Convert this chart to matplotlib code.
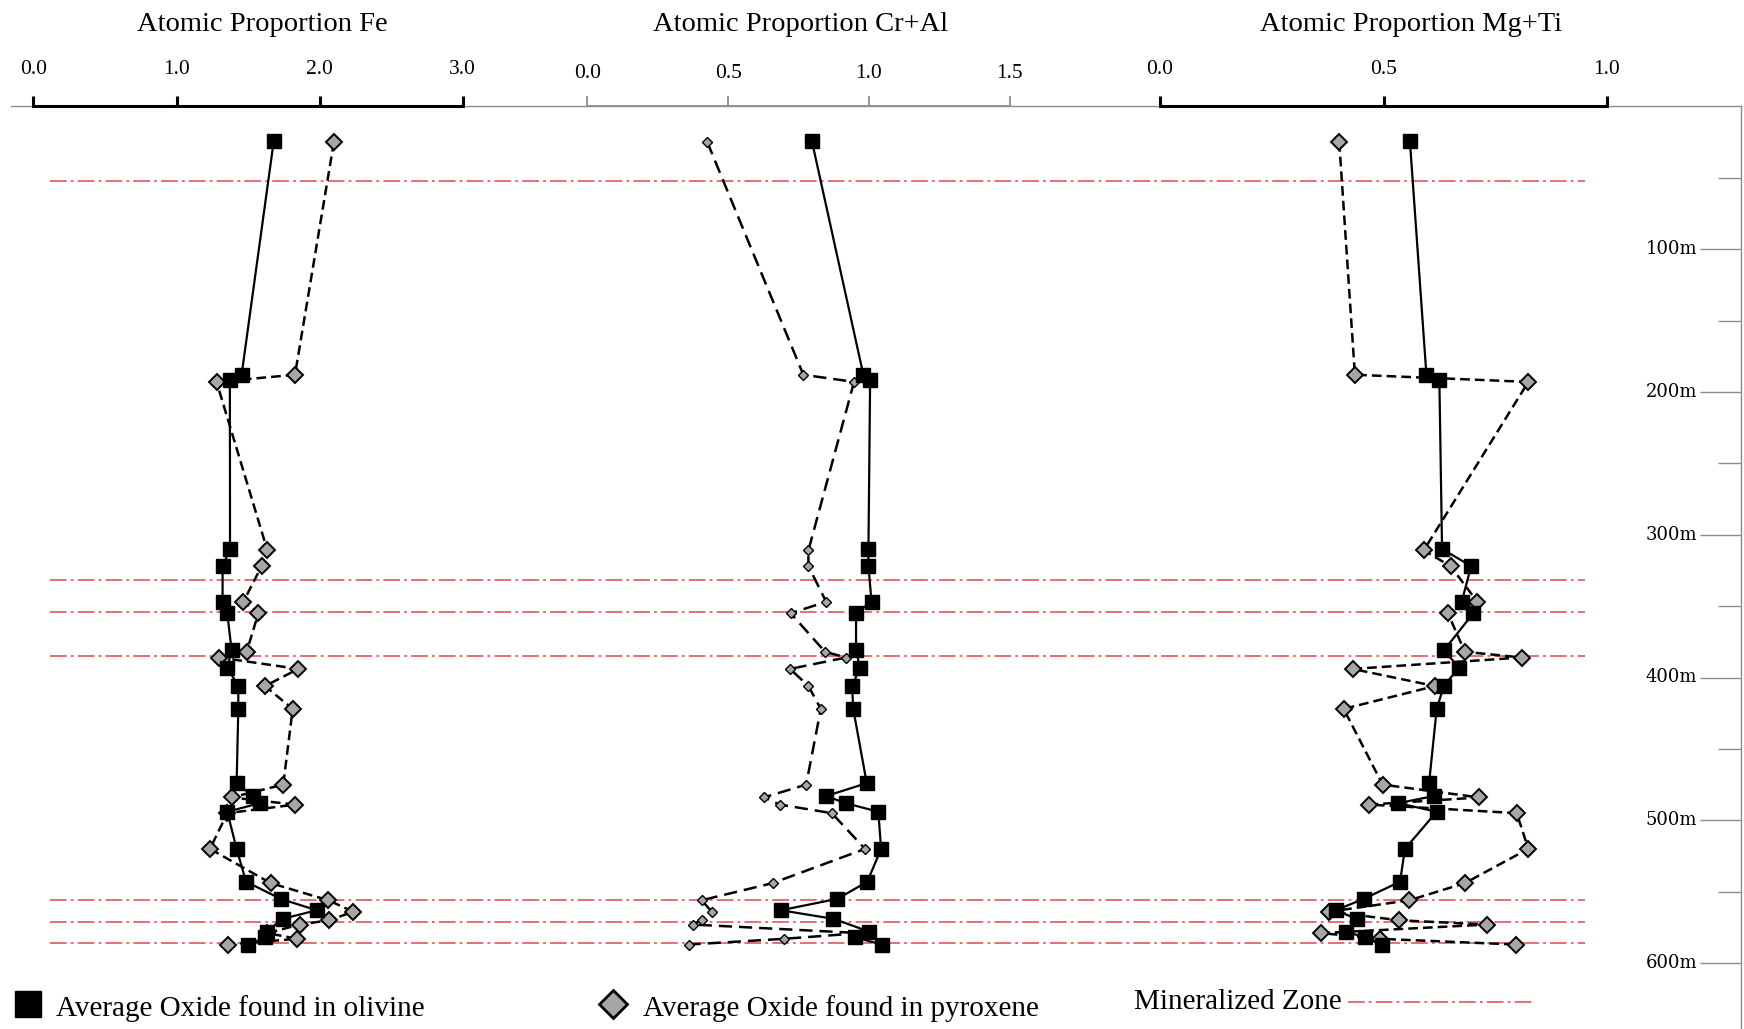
import matplotlib
matplotlib.use('Agg')
import matplotlib.pyplot as plt

plt.rcParams['font.family'] = ['Liberation Serif', 'DejaVu Serif']
plt.rcParams['lines.scale_dashes'] = False

# 样品深度 (m)
depth_ol = [24, 188, 192, 310, 322, 347, 355, 381, 393, 406, 422, 474, 483, 488,
            494, 520, 543, 555, 563, 569, 578, 582, 587]
depth_px = [25, 188, 193, 311, 322, 347, 355, 382, 386, 394, 406, 422, 475, 484,
            489, 495, 520, 544, 556, 564, 570, 573, 579, 583, 587]

# olivine
fe_ol = [1.68, 1.455, 1.373, 1.374, 1.322, 1.322, 1.355, 1.385, 1.355, 1.432, 1.432,
         1.420, 1.532, 1.583, 1.355, 1.420, 1.486, 1.728, 1.979, 1.742, 1.630, 1.62, 1.502]
cral_ol = [0.797, 0.98, 1.004, 0.998, 0.998, 1.009, 0.954, 0.954, 0.968, 0.940, 0.944,
           0.992, 0.848, 0.917, 1.033, 1.043, 0.994, 0.888, 0.687, 0.874, 1.001, 0.950, 1.045]
mgti_ol = [0.559, 0.596, 0.625, 0.631, 0.696, 0.675, 0.701, 0.635, 0.669, 0.635, 0.619,
           0.602, 0.613, 0.533, 0.619, 0.548, 0.537, 0.456, 0.393, 0.440, 0.417, 0.458, 0.496]

# pyroxene
fe_px = [2.10, 1.828, 1.28, 1.635, 1.595, 1.467, 1.572, 1.490, 1.299, 1.851, 1.618, 1.812,
         1.746, 1.385, 1.828, 1.355, 1.234, 1.658, 2.061, 2.235, 2.068, 1.862, 1.635, 1.844, 1.362]
cral_px = [0.426, 0.767, 0.947, 0.785, 0.785, 0.848, 0.722, 0.844, 0.919, 0.720, 0.785, 0.829,
           0.777, 0.627, 0.684, 0.868, 0.986, 0.658, 0.406, 0.442, 0.406, 0.375, 0.97, 0.698, 0.36]
mgti_px = [0.401, 0.436, 0.824, 0.590, 0.650, 0.710, 0.644, 0.682, 0.809, 0.431, 0.615, 0.411,
           0.498, 0.714, 0.468, 0.798, 0.824, 0.682, 0.558, 0.379, 0.535, 0.732, 0.361, 0.493, 0.797]

zone_depths = [52, 332, 354, 385, 556, 571, 586]
depth_ticks = [100, 200, 300, 400, 500, 600]
depth_minor = [50, 150, 250, 350, 450, 550]

titles = ['Atomic Proportion Fe', 'Atomic Proportion Cr+Al', 'Atomic Proportion Mg+Ti']
fe_ticks = [0.0, 1.0, 2.0, 3.0]
cral_ticks = [0.0, 0.5, 1.0, 1.5]
mgti_ticks = [0.0, 0.5, 1.0]

W, H = 1744, 1029
Y0 = 106.3          # 深度 0 的像素位置
PX_PER_M = 1.428
d_bot = (H - Y0) / PX_PER_M
d_top = -Y0 / PX_PER_M
GRAY = '#8c8c8c'
RED = '#e04848'
ZONE_DASH = (0, (12, 3, 2, 3))

fig = plt.figure(figsize=(W / 100, H / 100), dpi=100)
bg = fig.add_axes([0, 0, 1, 1])
bg.set_xlim(0, W)
bg.set_ylim(d_bot, d_top)
bg.axis('off')

# 外框与深度刻度
bg.plot([11, 1741], [0, 0], color=GRAY, lw=1.0)
bg.plot([1741, 1741], [0, d_bot], color=GRAY, lw=1.0)
bg.hlines(depth_ticks, 1700, 1741, colors=GRAY, lw=1.0)
bg.hlines(depth_minor, 1718, 1741, colors=GRAY, lw=1.0)
for d in depth_ticks:
    bg.text(1697, d, f'{d}m', ha='right', va='center', family='DejaVu Serif', fontsize=13)

# 矿化带
for d in zone_depths:
    bg.plot([50, 1585], [d, d], color=RED, lw=1.1, linestyle=ZONE_DASH, zorder=1)

panels = [
    (fe_ol, fe_px, (33.4, 462.7), 3.0, fe_ticks, 'black', 2.2, 8.3, (7, 3.6), 262),
    (cral_ol, cral_px, (587.2, 1009.9), 1.5, cral_ticks, GRAY, 1.3, 5.4, (9.5, 5), 800),
    (mgti_ol, mgti_px, (1160, 1607), 1.0, mgti_ticks, 'black', 2.2, 7.8, (7, 3.6), 1411),
]

for i, (ol, px, (x0, x1), xmax, ticks, scol, slw, dms, dash, tx) in enumerate(panels):
    ax = fig.add_axes([x0 / W, 0, (x1 - x0) / W, (H - Y0) / H])
    ax.patch.set_alpha(0)
    ax.set_xlim(0, xmax)
    ax.set_ylim(d_bot, 0)
    for s in ['left', 'right', 'bottom']:
        ax.spines[s].set_visible(False)
    ax.spines['top'].set_color(scol)
    ax.spines['top'].set_linewidth(slw)
    ax.xaxis.tick_top()
    ax.set_yticks([])
    ax.set_xticks(ticks)
    ax.set_xticklabels([f'{t:.1f}' for t in ticks])
    ax.tick_params(axis='x', direction='out', length=7, width=slw, color=scol,
                   pad=13 if i != 1 else 10, labelsize=15.5)

    ax.plot(px, depth_px, color='black', lw=1.8, linestyle=(0, dash),
            marker='D', ms=dms, mfc='#a6a6a6', mec='black',
            mew=1.4 if i != 1 else 1.0, clip_on=False, zorder=3)
    ax.plot(ol, depth_ol, color='black', lw=1.6, marker='s', ms=10.5,
            mfc='black', mec='black', clip_on=False, zorder=4)

    bg.text(tx, -57.3, titles[i], ha='center', va='center', fontsize=20.5)

# 图例
bg.plot([28], [628.6], marker='s', ms=19, color='black', clip_on=False)
bg.text(56, 631.5, 'Average Oxide found in olivine', ha='left', va='center', fontsize=21)
bg.plot([613], [628.6], marker='D', ms=14.5, mfc='#a6a6a6', mec='black', mew=2.0, clip_on=False)
bg.text(643, 631.5, 'Average Oxide found in pyroxene', ha='left', va='center', fontsize=21)
bg.text(1134, 627, 'Mineralized Zone', ha='left', va='center', fontsize=21)
bg.plot([1348, 1533], [627, 627], color=RED, lw=1.1, linestyle=ZONE_DASH)

fig.savefig('out.png', dpi=100)
